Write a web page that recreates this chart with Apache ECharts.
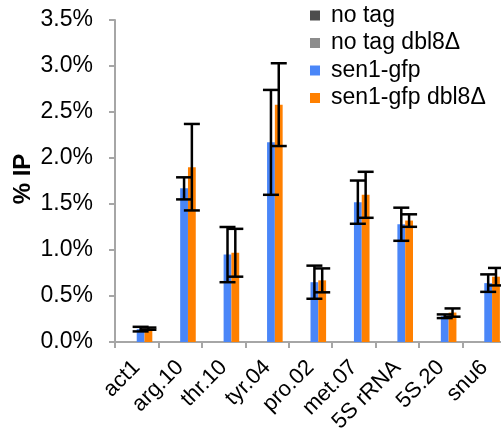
<!DOCTYPE html>
<html>
<head>
<meta charset="utf-8">
<script src="https://cdn.jsdelivr.net/npm/echarts@6/dist/echarts.min.js"></script>
<style>html,body{margin:0;padding:0;background:#fff}#c{width:501px;height:443px}</style>
</head>
<body>
<div id="c"></div>
<script>
const categories = ['act1','arg.10','thr.10','tyr.04','pro.02','met.07','5S rRNA','5S.20','snu6'];
const seriesNames = ['no tag','no tag dbl8\u0394','sen1-gfp','sen1-gfp dbl8\u0394'];
const noTag = [0,0,0,0,0,0,0,0,0];
const noTagDbl8 = [0,0,0,0,0,0,0,0,0];
const sen1 = [0.14,1.67,0.95,2.17,0.65,1.52,1.28,0.28,0.64];
const sen1Err = [0.025,0.12,0.30,0.57,0.18,0.235,0.18,0.02,0.095];
const sen1Dbl8 = [0.145,1.90,0.97,2.58,0.67,1.60,1.32,0.32,0.71];
const sen1Dbl8Err = [0.012,0.47,0.26,0.45,0.13,0.25,0.068,0.045,0.095];
const yTicks = [0,0.5,1.0,1.5,2.0,2.5,3.0,3.5];

const colors = ['#4d4d4d','#8c8c8c','#4a86f8','#ff8000'];
const BW = 7.8;
const FONT = 'Liberation Sans';

function errData(vals, errs){ return vals.map((v,i)=>[i,v,errs[i]]); }
function errRender(slot){
  return function(params, api){
    const i = api.value(0), v = api.value(1), e = api.value(2);
    const c = api.coord([i, v]);
    const x = c[0] - 2*BW + (slot+0.5)*BW;
    const yt = api.coord([i, v+e])[1];
    const yb = api.coord([i, v-e])[1];
    const hw = 8;
    const st = {stroke:'#000', lineWidth:2.5};
    return {type:'group', children:[
      {type:'line', shape:{x1:x,y1:yt,x2:x,y2:yb}, style:st},
      {type:'line', shape:{x1:x-hw,y1:yt,x2:x+hw,y2:yt}, style:st},
      {type:'line', shape:{x1:x-hw,y1:yb,x2:x+hw,y2:yb}, style:st}
    ]};
  };
}

const chart = echarts.init(document.getElementById('c'));
const barSeries = [noTag,noTagDbl8,sen1,sen1Dbl8].map((d,k)=>({
  name: seriesNames[k], type:'bar', data:d, barWidth:BW, barGap:'0%',
  itemStyle:{color:colors[k]}, animation:false
}));
chart.setOption({
  animation:false,
  color: colors,
  grid:{left:115, top:20, bottom:101, width:391, outerBoundsMode:'none'},
  legend:{
    orient:'vertical', left:310, top:4, padding:0,
    itemWidth:10, itemHeight:10, itemGap:4.5, icon:'rect',
    data: seriesNames,
    textStyle:{fontFamily:FONT, fontSize:23, color:'#000', lineHeight:20, padding:[0,0,0,6]}
  },
  xAxis:{
    type:'category', data:categories,
    axisLine:{lineStyle:{color:'#a6a6a6', width:2}},
    axisTick:{show:true, length:6, lineStyle:{color:'#a6a6a6', width:2}},
    axisLabel:{interval:0, rotate:45, margin:22, color:'#000', fontFamily:FONT, fontSize:22}
  },
  yAxis:{
    type:'value', min:0, max:3.5, interval:0.5,
    splitLine:{show:false},
    axisLine:{show:true, lineStyle:{color:'#a6a6a6', width:2}},
    axisTick:{show:true, length:6, lineStyle:{color:'#a6a6a6', width:2}},
    axisLabel:{margin:22, color:'#000', fontFamily:FONT, fontSize:23,
      formatter: v => v.toFixed(1)+'%'}
  },
  graphic:[{type:'text', x:23, y:179, rotation:Math.PI/2,
    style:{text:'% IP', align:'center', verticalAlign:'middle',
      font:'bold 24px "Liberation Sans"', fill:'#000'}}],
  series: barSeries.concat([
    {type:'custom', name:'sen1-err', data:errData(sen1,sen1Err), renderItem:errRender(2), encode:{x:0,y:1}, z:5},
    {type:'custom', name:'dbl8-err', data:errData(sen1Dbl8,sen1Dbl8Err), renderItem:errRender(3), encode:{x:0,y:1}, z:5}
  ])
});
</script>
</body>
</html>
